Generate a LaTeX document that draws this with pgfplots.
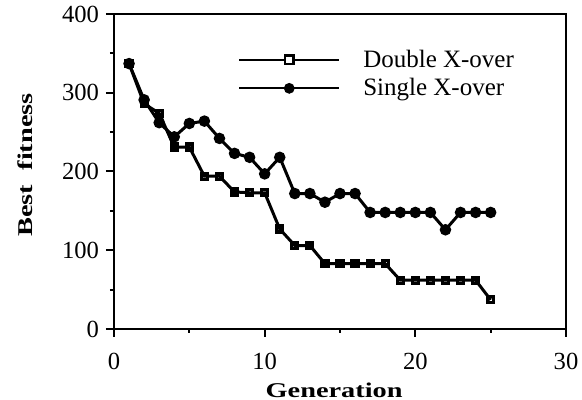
\documentclass[border=0pt]{standalone}
\usepackage{fontspec}
\setmainfont{Liberation Serif}
\usepackage{pgfplots}
\pgfplotsset{compat=1.18}
\begin{document}
\begin{tikzpicture}
\begin{axis}[
  scale only axis, width=226pt, height=157.5pt,
  xmin=0, xmax=30, ymin=0, ymax=400,
  xtick={0,10,20,30}, ytick={0,100,200,300,400},
  minor xtick={5,15,25}, minor ytick={50,150,250,350},
  tick align=outside, xtick pos=bottom, ytick pos=left,
  major tick length=4pt, minor tick length=2pt,
  every tick/.style={black, line width=1pt},
  axis line style={line width=1.2pt},
  /pgf/number format/assume math mode=true,
  tick label style={font=\fontsize{12.3}{13}\selectfont},
  xticklabel style={yshift=-4.5pt},
  xlabel={\scalebox{1.35}[1]{\fontsize{10.5}{12}\selectfont\bfseries Generation}},
  ylabel={\scalebox{1.35}[1]{\fontsize{10.5}{12}\selectfont\bfseries Best\ \ fitness}},
  xlabel style={at={(axis description cs:0.487,-0.194)}, anchor=center},
  ylabel style={at={(axis description cs:-0.197,0.521)}, anchor=center},
  legend style={draw=none, fill=none, at={(axis description cs:0.274,0.809)}, anchor=west,
    inner sep=0pt, row sep=0pt, font=\fontsize{12.5}{13}\selectfont},
  legend cell align=left,
]
\addplot[black, line width=1.5pt, mark=square, mark size=1.5pt,
  mark options={line width=1.6pt, fill=white, solid},
  legend image code/.code={\draw[black, line width=1pt] (0pt,0pt) -- (50pt,0pt);
    \draw[black, line width=1.3pt, fill=white] (22.9pt,-2.1pt) rectangle (27.1pt,2.1pt);}]
coordinates {
(1,337)(2,286)(3,274)(4,231)(5,231)(6,194)(7,194)(8,174)(9,173)(10,173)
(11,127)(12,106)(13,106)(14,83)(15,83)(16,83)(17,83)(18,83)(19,62)(20,62)
(21,62)(22,62)(23,62)(24,62)(25,37)};
\addlegendentry{\hspace{9.5pt}Double X-over}
\addplot[black, line width=1.5pt, mark=*, mark size=2.1pt,
  mark options={solid, fill=black},
  legend image code/.code={\draw[black, line width=1pt] (0pt,0pt) -- (50pt,0pt);
    \fill[black] (25pt,0pt) circle (1.9pt);}]
coordinates {
(1,337)(2,291)(3,262)(4,244)(5,261)(6,264)(7,242)(8,223)(9,218)(10,197)
(11,218)(12,172)(13,172)(14,161)(15,172)(16,172)(17,148)(18,148)(19,148)(20,148)
(21,148)(22,126)(23,148)(24,148)(25,148)};
\addlegendentry{\hspace{9.5pt}Single X-over}
\end{axis}
\pgfresetboundingbox
\path[use as bounding box] ([xshift=-57pt,yshift=-35.5pt]current axis.south west) rectangle ([xshift=8pt,yshift=7pt]current axis.north east);
\end{tikzpicture}
\end{document}
